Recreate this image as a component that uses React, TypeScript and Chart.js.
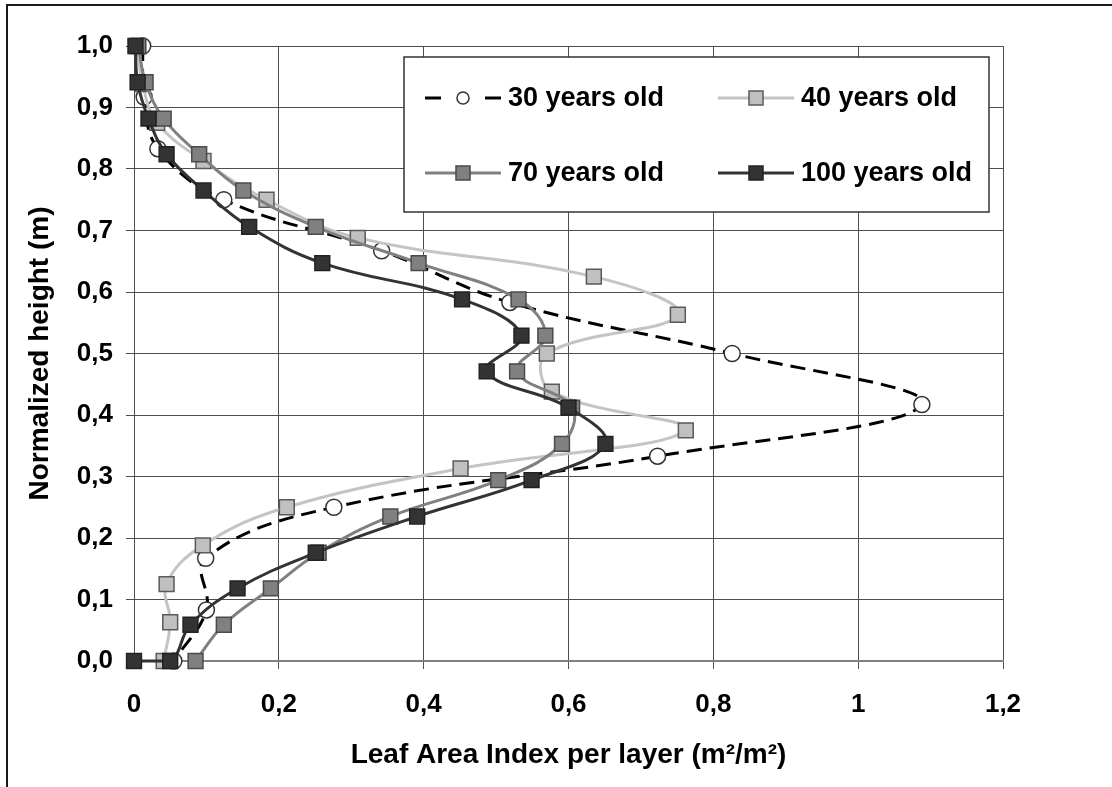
import React, { useEffect, useRef } from 'react';
import { Chart, registerables } from 'chart.js';

Chart.register(...registerables);

// ---- data ----
const seriesLabels = ['30 years old', '40 years old', '70 years old', '100 years old'];

const lai30 = [0.012, 0.014, 0.033, 0.124, 0.342, 0.519, 0.826, 1.088, 0.723, 0.276, 0.099, 0.1, 0.055];
const height30 = [1.0, 0.917, 0.833, 0.75, 0.667, 0.583, 0.5, 0.417, 0.333, 0.25, 0.167, 0.083, 0.0];

const lai40 = [0.005, 0.012, 0.032, 0.096, 0.183, 0.309, 0.635, 0.751, 0.57, 0.577, 0.762, 0.451, 0.211, 0.095, 0.045, 0.05, 0.041];
const height40 = [1.0, 0.938, 0.875, 0.813, 0.75, 0.688, 0.625, 0.563, 0.5, 0.438, 0.375, 0.313, 0.25, 0.188, 0.125, 0.063, 0.0];

const lai70 = [0.006, 0.016, 0.041, 0.09, 0.151, 0.251, 0.393, 0.531, 0.568, 0.529, 0.605, 0.591, 0.503, 0.354, 0.255, 0.189, 0.124, 0.085];
const height70 = [1.0, 0.941, 0.882, 0.824, 0.765, 0.706, 0.647, 0.588, 0.529, 0.471, 0.412, 0.353, 0.294, 0.235, 0.176, 0.118, 0.059, 0.0];

const lai100 = [0.002, 0.005, 0.02, 0.045, 0.096, 0.159, 0.26, 0.453, 0.535, 0.487, 0.6, 0.651, 0.549, 0.391, 0.251, 0.143, 0.078, 0.05, 0.0];
const height100 = [1.0, 0.941, 0.882, 0.824, 0.765, 0.706, 0.647, 0.588, 0.529, 0.471, 0.412, 0.353, 0.294, 0.235, 0.176, 0.118, 0.059, 0.0, 0.0];

const xTickLabels = ['0', '0,2', '0,4', '0,6', '0,8', '1', '1,2'];
const yTickLabels = ['0,0', '0,1', '0,2', '0,3', '0,4', '0,5', '0,6', '0,7', '0,8', '0,9', '1,0'];

const xTitle = 'Leaf Area Index per layer (m²/m²)';
const yTitle = 'Normalized height (m)';

// ---- styles ----
const FONT = "'Liberation Sans', Arial, Helvetica, sans-serif";
const GRID = '#4d4d4d';

function toPoints(xs: number[], ys: number[]) {
  return xs.map((x, i) => ({ x, y: ys[i] }));
}

const legendPlugin = {
  id: 'boxLegend',
  afterDatasetsDraw(chart: any) {
    const ctx = chart.ctx as CanvasRenderingContext2D;
    ctx.save();
    ctx.fillStyle = '#ffffff';
    ctx.fillRect(404, 57, 585, 155);
    ctx.strokeStyle = '#333333';
    ctx.lineWidth = 1.5;
    ctx.strokeRect(404, 57, 585, 155);
    const cols = [425, 718];
    const rows = [98, 173];
    chart.data.datasets.forEach((ds: any, i: number) => {
      const x0 = cols[i % 2];
      const y = rows[Math.floor(i / 2)];
      const x1 = x0 + 76;
      const xm = (x0 + x1) / 2;
      ctx.strokeStyle = ds.borderColor;
      ctx.lineWidth = ds.borderWidth;
      ctx.setLineDash(ds.borderDash && ds.borderDash.length ? [16, 44] : []);
      ctx.beginPath();
      ctx.moveTo(x0, y);
      ctx.lineTo(x1, y);
      ctx.stroke();
      ctx.setLineDash([]);
      ctx.fillStyle = ds.pointBackgroundColor;
      ctx.strokeStyle = ds.pointBorderColor;
      ctx.lineWidth = 1.5;
      if (ds.pointStyle === 'circle') {
        ctx.beginPath();
        ctx.arc(xm, y, 6, 0, Math.PI * 2);
        ctx.fill();
        ctx.stroke();
      } else {
        ctx.fillRect(xm - 7, y - 7, 14, 14);
        ctx.strokeRect(xm - 7, y - 7, 14, 14);
      }
      ctx.fillStyle = '#000';
      ctx.font = `bold 27px ${FONT}`;
      ctx.textBaseline = 'middle';
      ctx.textAlign = 'left';
      ctx.fillText(ds.label, x1 + 7, y + 1);
    });
    ctx.restore();
  },
};

export default function App() {
  const canvasRef = useRef<HTMLCanvasElement | null>(null);

  useEffect(() => {
    if (!canvasRef.current) return;
    const common = {
      showLine: true,
      tension: 0.4,
      borderWidth: 3,
      pointBorderWidth: 1.5,
      clip: false as any,
    };
    const chart = new Chart(canvasRef.current, {
      type: 'scatter',
      data: {
        datasets: [
          {
            ...common,
            label: seriesLabels[0],
            data: toPoints(lai30, height30),
            borderColor: '#000000',
            borderDash: [15, 8],
            pointStyle: 'circle',
            pointRadius: 8,
            pointBackgroundColor: '#ffffff',
            pointBorderColor: '#333333',
            order: 4,
          },
          {
            ...common,
            label: seriesLabels[1],
            data: toPoints(lai40, height40),
            borderColor: '#c4c4c4',
            pointStyle: 'rect',
            pointRadius: 10.5,
            pointBackgroundColor: '#c0c0c0',
            pointBorderColor: '#5a5a5a',
            order: 3,
          },
          {
            ...common,
            label: seriesLabels[2],
            data: toPoints(lai70, height70),
            borderColor: '#808080',
            pointStyle: 'rect',
            pointRadius: 10.5,
            pointBackgroundColor: '#808080',
            pointBorderColor: '#4a4a4a',
            order: 2,
          },
          {
            ...common,
            label: seriesLabels[3],
            data: toPoints(lai100, height100),
            borderColor: '#333333',
            pointStyle: 'rect',
            pointRadius: 10.5,
            pointBackgroundColor: '#333333',
            pointBorderColor: '#222222',
            order: 1,
          },
        ] as any,
      },
      options: {
        responsive: false,
        animation: false,
        events: [],
        layout: { padding: { left: 0, top: 46, right: 109, bottom: 0 } },
        plugins: {
          legend: { display: false },
          tooltip: { enabled: false },
        },
        scales: {
          x: {
            type: 'linear',
            min: 0,
            max: 1.2,
            ticks: {
              stepSize: 0.2,
              autoSkip: false,
              maxRotation: 0,
              padding: 20,
              color: '#000',
              font: { family: FONT, size: 26, weight: 'bold' },
              callback: (_v: any, i: number) => xTickLabels[i],
            },
            grid: { color: GRID, lineWidth: 1, tickLength: 8, drawTicks: true },
            border: { color: '#808080', width: 2 },
            title: {
              display: true,
              text: xTitle,
              color: '#000',
              font: { family: FONT, size: 28, weight: 'bold' },
              padding: { top: 0, bottom: 15 },
            },
            afterFit: (s: any) => {
              s.height = 126;
            },
          },
          y: {
            type: 'linear',
            min: 0,
            max: 1.0,
            ticks: {
              stepSize: 0.1,
              autoSkip: false,
              padding: 13,
              color: '#000',
              font: { family: FONT, size: 26, weight: 'bold' },
              callback: (_v: any, i: number) => yTickLabels[i],
            },
            grid: { color: GRID, lineWidth: 1, tickLength: 8, drawTicks: true },
            border: { color: GRID, width: 1 },
            title: {
              display: true,
              text: yTitle,
              color: '#000',
              font: { family: FONT, size: 28, weight: 'bold' },
              padding: { top: 23, bottom: 0 },
            },
            afterFit: (s: any) => {
              s.width = 134;
            },
          },
        },
      } as any,
      plugins: [legendPlugin as any],
    });
    return () => chart.destroy();
  }, []);

  return (
    <div
      style={{
        position: 'absolute',
        left: 0,
        top: 0,
        width: 1112,
        height: 787,
        overflow: 'hidden',
        background: '#fff',
      }}
    >
      <div
        style={{
          position: 'absolute',
          left: 6,
          top: 4,
          width: 1200,
          height: 900,
          border: '2px solid #1a1a1a',
        }}
      />
      <canvas
        ref={canvasRef}
        width={1112}
        height={787}
        style={{ position: 'absolute', left: 0, top: 0, width: 1112, height: 787 }}
      />
    </div>
  );
}
